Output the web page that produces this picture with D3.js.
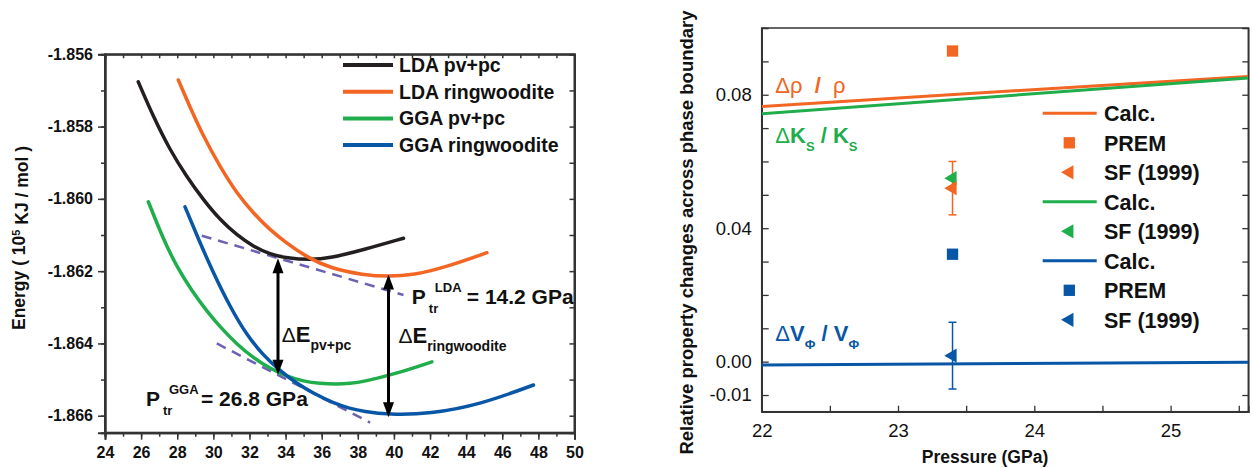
<!DOCTYPE html>
<html>
<head>
<meta charset="utf-8">
<title>Energy curves and phase boundary changes</title>
<script src="https://cdn.jsdelivr.net/npm/d3@7"></script>
<style>
  body { margin: 0; background: #fff; }
  svg { font-family: "Liberation Sans", Arial, sans-serif; }
  .axis path, .axis line { stroke: #333; }
  .axis text { fill: #111; }
</style>
</head>
<body>
<svg id="chart" width="1253" height="468"></svg>
<script>
// ---------- left panel data (x, energy in 10^5 kJ/mol) ----------
var ldaPvPc = [[25.84,-1.85676],[26.68,-1.85773],[27.60,-1.85865],[28.53,-1.85939],[29.45,-1.86003],
  [30.37,-1.86058],[31.30,-1.86100],[32.22,-1.86132],[33.14,-1.86153],[34.07,-1.86164],
  [35.36,-1.86169],[36.47,-1.86164],[38.31,-1.86141],[40.53,-1.86109]];
var ldaRing = [[28.06,-1.85671],[28.53,-1.85726],[29.45,-1.85828],[30.37,-1.85911],[31.30,-1.85985],
  [32.22,-1.86040],[33.14,-1.86086],[34.07,-1.86123],[35.17,-1.86161],[36.47,-1.86192],
  [38.31,-1.86211],[39.70,-1.86215],[41.08,-1.86211],[42.93,-1.86188],[45.15,-1.86149]];
var ggaPvPc = [[26.40,-1.86008],[27.23,-1.86112],[28.00,-1.86190],[28.80,-1.86254],[29.60,-1.86308],
  [30.40,-1.86356],[31.30,-1.86402],[32.22,-1.86440],[33.14,-1.86469],[34.07,-1.86491],
  [34.99,-1.86505],[35.91,-1.86511],[36.80,-1.86513],[37.57,-1.86511],[38.31,-1.86506],
  [40.16,-1.86483],[42.10,-1.86451]];
var ggaRing = [[28.43,-1.86022],[29.17,-1.86111],[30.00,-1.86205],[30.93,-1.86299],[31.85,-1.86377],
  [32.77,-1.86433],[33.70,-1.86476],[34.62,-1.86511],[35.54,-1.86538],[36.65,-1.86565],
  [37.57,-1.86580],[38.31,-1.86588],[39.70,-1.86597],[42.01,-1.86595],[44.78,-1.86569],
  [47.73,-1.86515]];
var ldaTangent = [[29.36,-1.86102],[40.53,-1.86266]];
var ggaTangent = [[30.19,-1.86400],[38.68,-1.86619]];
var arrowX = [33.58, 39.70];
var arrowTop = [-1.86164, -1.86209];
var arrowBottom = [-1.86487, -1.86604];
var leftSeriesNames = ["LDA pv+pc", "LDA ringwoodite", "GGA pv+pc", "GGA ringwoodite"];
var leftXTicks = [24,26,28,30,32,34,36,38,40,42,44,46,48,50];
var leftYTicks = [-1.866,-1.864,-1.862,-1.860,-1.858,-1.856];

// ---------- right panel data (pressure GPa, relative change) ----------
var calcPressure = [22, 25.57];
var rhoCalc = [0.0765, 0.0855];
var ksCalc = [0.0743, 0.0850];
var vphiCalc = [-0.0010, -0.0002];
var obsPressure = 23.4;
var premRho = 0.0931, premVphi = 0.0322;
var sfRho = 0.052, sfRhoErr = 0.008;
var sfKs = 0.055;
var sfVphi = 0.0018, sfVphiErr = 0.010;
var rightXTicks = [22, 23, 24, 25];
var rightYTickLabels = [-0.01, 0.00, 0.04, 0.08];

var cBlack = "#231f20", cOrange = "#f26522", cGreen = "#20ad4b", cBlue = "#0856a6", cDash = "#6c62b4";

var svg = d3.select("#chart");

// ================= LEFT PANEL =================
var xL = d3.scaleLinear().domain([24, 50]).range([105, 574.5]);
var yL = d3.scaleLinear().domain([-1.86647, -1.856]).range([432.7, 54.3]);
var gl = svg.append("g");

// axes
var minorX = d3.range(24, 51);
var minorY = d3.range(-1.866, -1.8555, 0.001);
gl.append("g").attr("class","axis").attr("transform","translate(0,432.7)")
  .call(d3.axisBottom(xL).tickValues(minorX).tickSize(4).tickFormat(""));
gl.append("g").attr("class","axis").attr("transform","translate(0,432.7)")
  .call(d3.axisBottom(xL).tickValues(leftXTicks).tickSize(7).tickPadding(7).tickFormat(d3.format("d")))
  .selectAll("text").style("font-size","16px").style("font-weight","bold");
gl.append("g").attr("class","axis").attr("transform","translate(0,54.3)")
  .call(d3.axisTop(xL).tickValues(minorX).tickSize(-4).tickFormat(""));
gl.append("g").attr("class","axis").attr("transform","translate(105,0)")
  .call(d3.axisLeft(yL).tickValues(minorY).tickSize(4).tickFormat(""));
gl.append("g").attr("class","axis").attr("transform","translate(105,0)")
  .call(d3.axisLeft(yL).tickValues(leftYTicks).tickSize(7).tickPadding(5).tickFormat(function(d){ return d.toFixed(3); }))
  .selectAll("text").style("font-size","16px").style("font-weight","bold");
gl.append("g").attr("class","axis").attr("transform","translate(574.5,0)")
  .call(d3.axisRight(yL).tickValues(minorY).tickSize(-5).tickFormat(""));
gl.selectAll(".axis path").style("stroke-width","2px");
gl.selectAll(".axis line").style("stroke-width","1.5px");
gl.append("rect").attr("x",105).attr("y",54.3).attr("width",469.5).attr("height",378.4)
  .attr("fill","none").attr("stroke","#333").attr("stroke-width",2);

// curves
var lineL = d3.line().x(function(d){ return xL(d[0]); }).y(function(d){ return yL(d[1]); }).curve(d3.curveBasis);
var leftSeries = [ldaPvPc, ldaRing, ggaPvPc, ggaRing];
var leftColors = [cBlack, cOrange, cGreen, cBlue];
[ldaTangent, ggaTangent].forEach(function(t){
  gl.append("path").attr("d", d3.line().x(function(d){return xL(d[0]);}).y(function(d){return yL(d[1]);})(t))
    .attr("stroke", cDash).attr("stroke-width", 2.5).attr("stroke-dasharray","10,7").attr("fill","none");
});
leftSeries.forEach(function(s, i){
  gl.append("path").attr("d", lineL(s)).attr("fill","none")
    .attr("stroke", leftColors[i]).attr("stroke-width", 3.5).attr("stroke-linecap","round");
});

// double arrows
arrowX.forEach(function(ax, i){
  var x = xL(ax), y1 = yL(arrowTop[i]), y2 = yL(arrowBottom[i]);
  gl.append("line").attr("x1",x).attr("x2",x).attr("y1",y1+12).attr("y2",y2-12)
    .attr("stroke","#000").attr("stroke-width",3);
  gl.append("path").attr("d","M"+x+","+y1+"L"+(x-5.5)+","+(y1+15)+"L"+(x+5.5)+","+(y1+15)+"Z").attr("fill","#000");
  gl.append("path").attr("d","M"+x+","+y2+"L"+(x-5.5)+","+(y2-15)+"L"+(x+5.5)+","+(y2-15)+"Z").attr("fill","#000");
});

// annotations
function ptr(x, y, sup, rest){
  var px = xL(x), py = yL(y);
  var t = gl.append("g").attr("font-weight","bold").attr("fill","#111");
  t.append("text").attr("x",px).attr("y",py).style("font-size","21px").text("P");
  t.append("text").attr("x",px+17).attr("y",py+9).style("font-size","13px").text("tr");
  t.append("text").attr("x",px+23).attr("y",py-12).style("font-size","13px").text(sup);
  t.append("text").attr("x",px+55).attr("y",py).style("font-size","21px").text(rest);
}
ptr(26.27, -1.86572, "GGA", "= 26.8 GPa");
ptr(40.99, -1.86291, "LDA", "= 14.2 GPa");

function deltaE(x, y, sub){
  var px = xL(x), py = yL(y);
  var t = gl.append("text").attr("x",px).attr("y",py).attr("fill","#111");
  t.append("tspan").style("font-size","21px").text("\u0394");
  t.append("tspan").style("font-size","22px").attr("font-weight","bold").text("E");
  t.append("tspan").attr("dy",8).style("font-size","14px").attr("font-weight","bold").text(sub);
}
deltaE(33.79, -1.86395, "pv+pc");
deltaE(40.25, -1.86398, "ringwoodite");

// legend
var legL = gl.append("g");
leftSeriesNames.forEach(function(name, i){
  var y = 65 + i * 26.7;
  legL.append("line").attr("x1",343).attr("x2",393).attr("y1",y).attr("y2",y)
    .attr("stroke", leftColors[i]).attr("stroke-width",4);
  legL.append("text").attr("x",399).attr("y",y).attr("dy","0.36em")
    .style("font-size","19.5px").attr("font-weight","bold").attr("fill","#111").text(name);
});

// y title
var ttl = gl.append("text").attr("transform","translate(25,238) rotate(-90)")
  .attr("text-anchor","middle").attr("font-weight","bold").style("font-size","17.5px").attr("fill","#111");
ttl.append("tspan").text("Energy ( 10");
ttl.append("tspan").attr("dy","-0.45em").style("font-size","11px").text("5");
ttl.append("tspan").attr("dy","0.45em").text(" KJ / mol )");

// ================= RIGHT PANEL =================
var xR = d3.scaleLinear().domain([22, 25.57]).range([761.7, 1248.3]);
var yR = d3.scaleLinear().domain([-0.015, 0.10]).range([411.7, 28]);
var gr = svg.append("g");
var rightXMinor = d3.range(44, 52).map(function(i){ return i / 2; });
var rightYMinor = d3.range(-1, 10).map(function(i){ return i / 100; });

var rc = gr.append("defs").append("clipPath").attr("id","clipR");
rc.append("rect").attr("x",761.7).attr("y",28).attr("width",486.6).attr("height",383.7);

gr.append("g").attr("class","axis").attr("transform","translate(0,411.7)")
  .call(d3.axisBottom(xR).tickValues(rightXMinor).tickSize(-6).tickFormat(""));
gr.append("g").attr("class","axis").attr("transform","translate(0,411.7)")
  .call(d3.axisBottom(xR).tickValues(rightXTicks).tickSize(0).tickPadding(12).tickFormat(d3.format("d")))
  .selectAll("text").style("font-size","18.5px");
gr.append("g").attr("class","axis").attr("transform","translate(761.7,0)")
  .call(d3.axisLeft(yR).tickValues(rightYMinor).tickSize(-7).tickFormat(""));
gr.append("g").attr("class","axis").attr("transform","translate(761.7,0)")
  .call(d3.axisLeft(yR).tickValues(rightYTickLabels).tickSize(0).tickPadding(10)
    .tickFormat(function(d){ return d.toFixed(2); }))
  .selectAll("text").style("font-size","18.5px");
gr.append("g").attr("class","axis").attr("transform","translate(1248.3,0)")
  .call(d3.axisRight(yR).tickValues(rightYMinor).tickSize(-6).tickFormat(""));
gr.selectAll(".axis path").style("stroke-width","1.5px");
gr.selectAll(".axis line").style("stroke-width","1.3px");
gr.append("rect").attr("x",761.7).attr("y",28).attr("width",486.6).attr("height",383.7)
  .attr("fill","none").attr("stroke","#333").attr("stroke-width",1.5);

// calc lines
var calcSeries = [rhoCalc, ksCalc, vphiCalc];
var calcColors = [cOrange, cGreen, cBlue];
var lineR = d3.line().x(function(d){ return xR(d[0]); }).y(function(d){ return yR(d[1]); });
calcSeries.forEach(function(s, i){
  gr.append("path").attr("clip-path","url(#clipR)")
    .attr("d", lineR(calcPressure.map(function(p, j){ return [p, s[j]]; })))
    .attr("stroke", calcColors[i]).attr("stroke-width", 3).attr("fill","none");
});

// error bars
function errBar(v, e, color){
  var x = xR(obsPressure), a = yR(v + e), b = yR(v - e);
  gr.append("line").attr("x1",x).attr("x2",x).attr("y1",a).attr("y2",b).attr("stroke",color).attr("stroke-width",1.5);
  gr.append("line").attr("x1",x-4).attr("x2",x+4).attr("y1",a).attr("y2",a).attr("stroke",color).attr("stroke-width",1.5);
  gr.append("line").attr("x1",x-4).attr("x2",x+4).attr("y1",b).attr("y2",b).attr("stroke",color).attr("stroke-width",1.5);
}
errBar(sfRho, sfRhoErr, cOrange);
errBar(sfVphi, sfVphiErr, cBlue);

var sq = d3.symbol().type(d3.symbolSquare).size(128);
var tri = d3.symbol().type(d3.symbolTriangle).size(88);
function mark(kind, x, y, color){
  gr.append("path").attr("d", kind === "sq" ? sq() : tri())
    .attr("transform","translate(" + x + "," + y + ")" + (kind === "tri" ? " rotate(-90)" : ""))
    .attr("fill", color);
}
mark("sq", xR(obsPressure), yR(premRho), cOrange);
mark("sq", xR(obsPressure), yR(premVphi), cBlue);
mark("tri", xR(obsPressure), yR(sfKs), cGreen);
mark("tri", xR(obsPressure), yR(sfRho), cOrange);
mark("tri", xR(obsPressure), yR(sfVphi), cBlue);

// legend
var legendR = [
  {t:"line", c:cOrange, l:"Calc."}, {t:"sq", c:cOrange, l:"PREM"}, {t:"tri", c:cOrange, l:"SF (1999)"},
  {t:"line", c:cGreen, l:"Calc."}, {t:"tri", c:cGreen, l:"SF (1999)"},
  {t:"line", c:cBlue, l:"Calc."}, {t:"sq", c:cBlue, l:"PREM"}, {t:"tri", c:cBlue, l:"SF (1999)"}
];
legendR.forEach(function(d, i){
  var y = 113.3 + i * 29.5;
  if (d.t === "line") {
    gr.append("line").attr("x1",1042.7).attr("x2",1096.7).attr("y1",y).attr("y2",y)
      .attr("stroke", d.c).attr("stroke-width",3);
  } else {
    mark(d.t, 1069.3, y, d.c);
  }
  gr.append("text").attr("x",1104).attr("y",y).attr("dy","0.36em")
    .style("font-size","21.5px").attr("font-weight","bold").attr("fill","#111").text(d.l);
});

// series labels
function ratioLabel(yv, sym, sub, color){
  var w = sub ? "bold" : "normal";
  var t = gr.append("text").attr("x", xR(22.1)).attr("y", yR(yv)).attr("fill", color)
    .attr("xml:space","preserve");
  t.append("tspan").style("font-size","22px").text("\u0394");
  t.append("tspan").style("font-size","22px").attr("font-weight", w).text(sym);
  if (sub) t.append("tspan").attr("dy",8).style("font-size","13px").attr("font-weight","bold").text(sub);
  t.append("tspan").attr("dy", sub ? -8 : 0).style("font-size","22px").attr("font-weight","bold").text(sub ? " / " : "  /  ");
  t.append("tspan").style("font-size","22px").attr("font-weight", w).text(sym);
  if (sub) t.append("tspan").attr("dy",8).style("font-size","13px").attr("font-weight","bold").text(sub);
}
ratioLabel(0.0805, "\u03c1", null, cOrange);
ratioLabel(0.0654, "K", "S", cGreen);
ratioLabel(0.0063, "V", "\u03a6", cBlue);

// titles
gr.append("text").attr("transform","translate(693,232.5) rotate(-90)").attr("text-anchor","middle")
  .attr("font-weight","bold").style("font-size","18.5px").attr("fill","#111")
  .text("Relative property changes across phase boundary");
gr.append("text").attr("x",985).attr("y",463).attr("text-anchor","middle")
  .attr("font-weight","bold").style("font-size","17.5px").attr("fill","#111").text("Pressure (GPa)");
</script>
</body>
</html>
